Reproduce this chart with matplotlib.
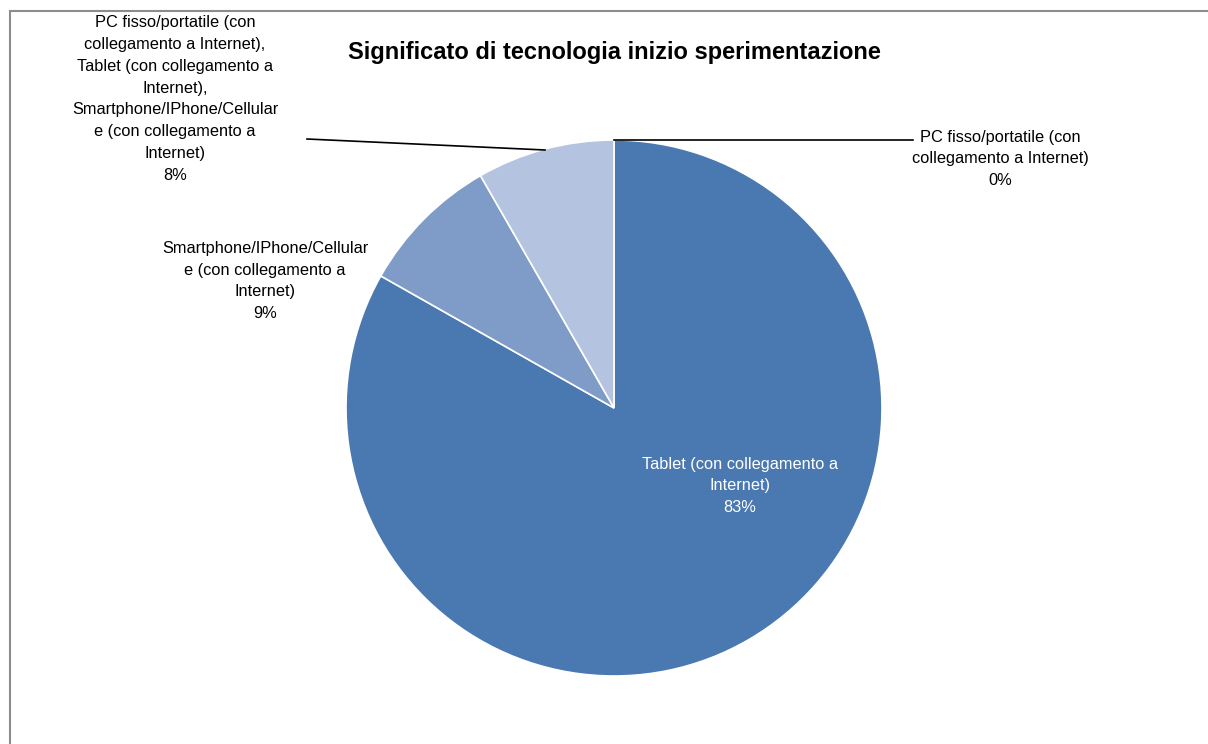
import matplotlib.pyplot as plt
from matplotlib.patches import Rectangle

# data
categories = [
    "PC fisso/portatile (con\ncollegamento a Internet)",
    "Tablet (con collegamento a\nInternet)",
    "Smartphone/IPhone/Cellular\ne (con collegamento a\nInternet)",
    "PC fisso/portatile (con\ncollegamento a Internet),\nTablet (con collegamento a\nInternet),\nSmartphone/IPhone/Cellular\ne (con collegamento a\nInternet)",
]
values = [0.0, 83.2, 8.5, 8.3]
pct_labels = ["0%", "83%", "9%", "8%"]
colors = ["#3d6aa6", "#4a78b0", "#7f9cc8", "#b4c4e0"]

W, H = 1208, 744
fig = plt.figure(figsize=(W / 100, H / 100), dpi=100)
plt.rcParams['font.family'] = ['Liberation Sans Narrow', 'Liberation Sans', 'DejaVu Sans']

# outer frame (only top/left visible in the reference)
fig.patches.append(Rectangle((10 / W, -0.1), 1.2, 1 - 11 / H + 0.1,
                             transform=fig.transFigure, fill=False,
                             edgecolor="#8c8c8c", linewidth=1.5))

cx, cy, r = 614, 408, 268
ax = fig.add_axes([(cx - r) / W, (H - cy - r) / H, 2 * r / W, 2 * r / H])
ax.pie(values, colors=colors, startangle=90, counterclock=False, radius=1,
       wedgeprops=dict(edgecolor="white", linewidth=1.2))
ax.set_xlim(-1, 1)
ax.set_ylim(-1, 1)
ax.set_aspect("equal")
ax.axis("off")


def px(x, y):
    return ((x - cx) / r, (cy - y) / r)


fs = 11.8
ls = 1.58
# PC 0%
ax.plot(*zip(px(614, 140), px(913, 140)), color="black", lw=1.2, clip_on=False)
ax.text(*px(1000, 159), categories[0] + "\n" + pct_labels[0], ha="center", va="center",
        fontsize=fs, linespacing=ls)
# Tablet
ax.text(*px(740, 486), categories[1] + "\n" + pct_labels[1], ha="center", va="center",
        fontsize=fs, color="white", linespacing=ls)
# Smartphone
ax.text(*px(265, 281), categories[2] + "\n" + pct_labels[2], ha="center", va="center",
        fontsize=fs, linespacing=ls)
# combo
ax.plot(*zip(px(307, 139), px(545, 150)), color="black", lw=1.2, clip_on=False)
ax.text(*px(175, 99), categories[3] + "\n" + pct_labels[3], ha="center", va="center",
        fontsize=fs, linespacing=ls)

fig.text(614 / W, 1 - 52 / H, "Significato di tecnologia inizio sperimentazione",
         ha="center", va="center", fontsize=17, fontweight="bold")

fig.savefig("out.png", dpi=100)
